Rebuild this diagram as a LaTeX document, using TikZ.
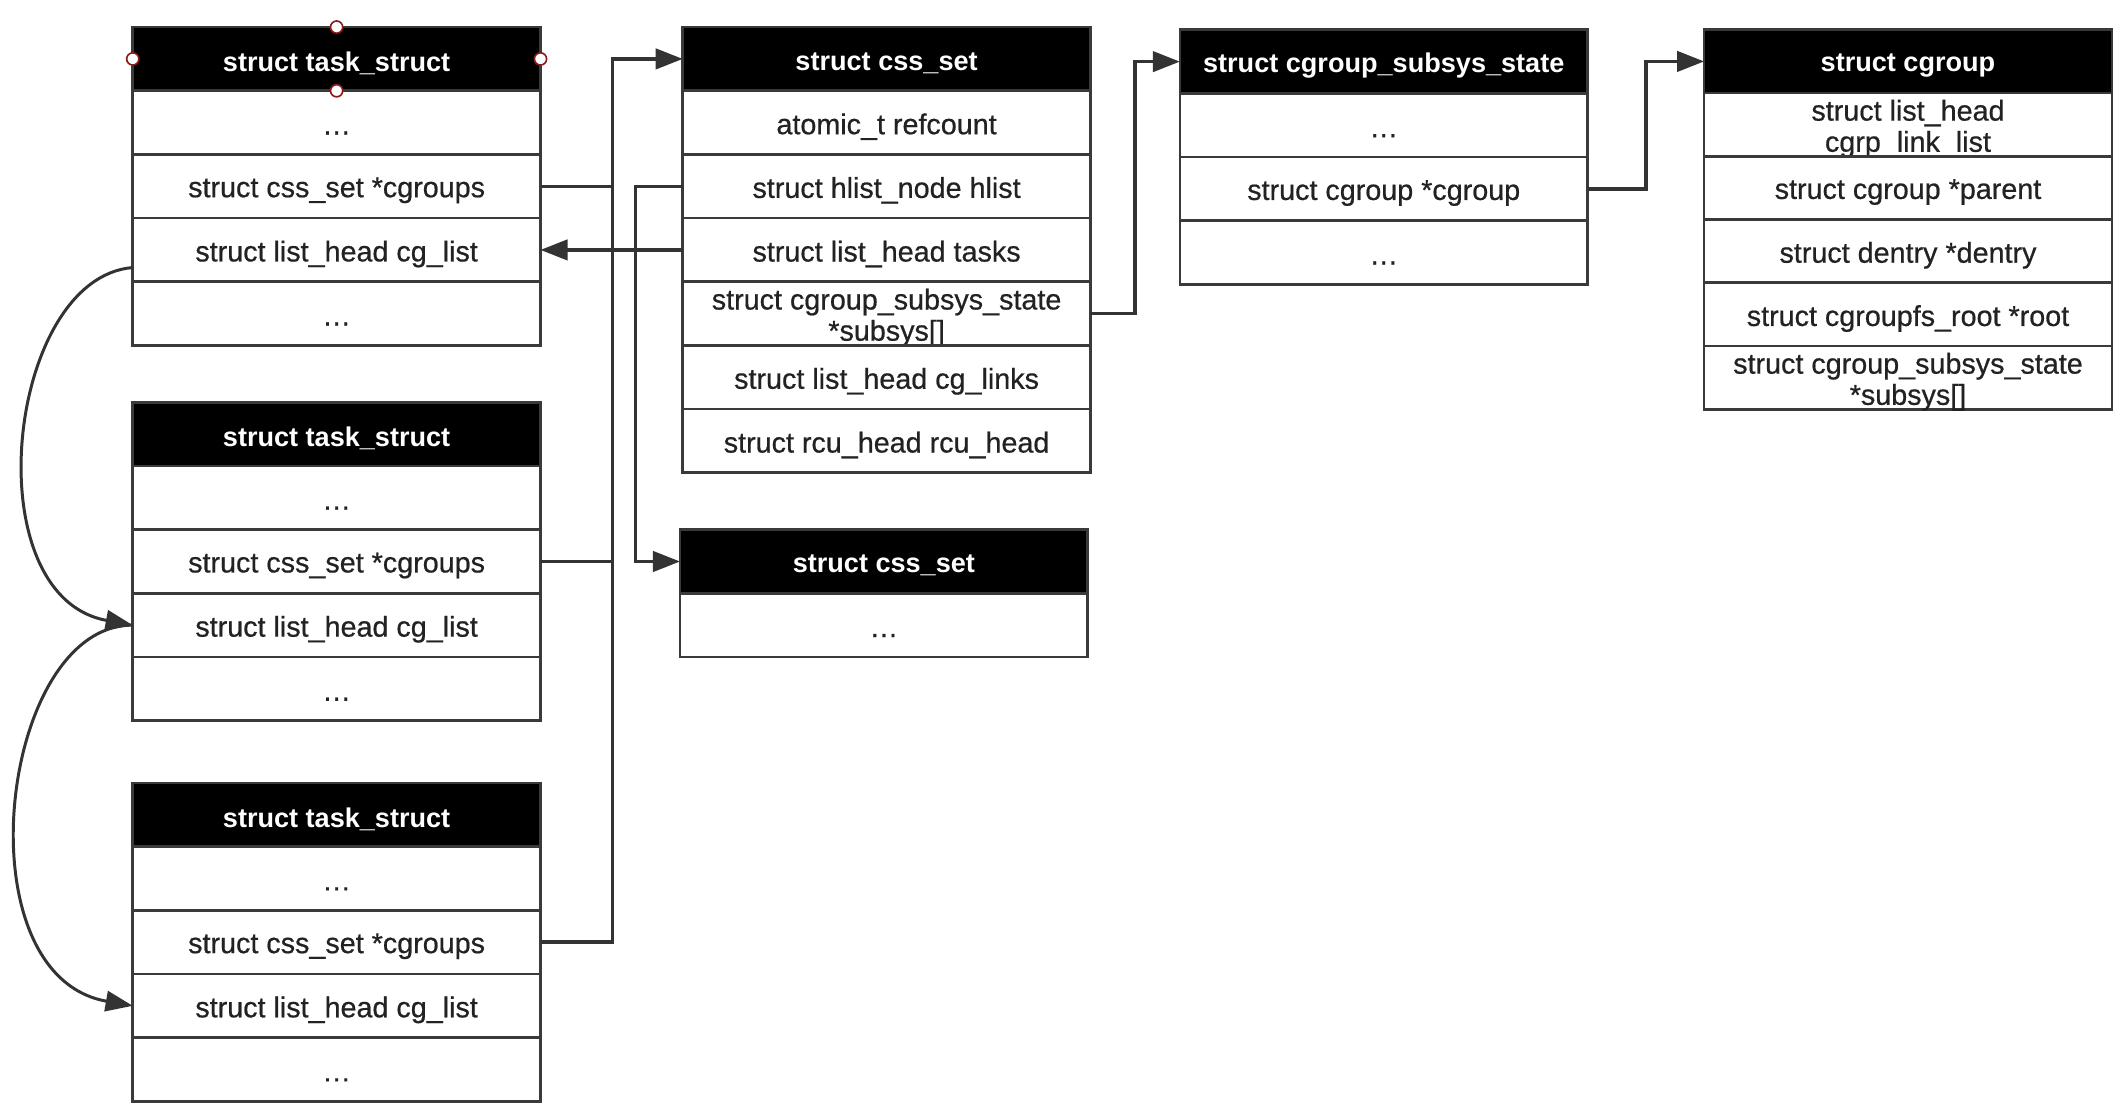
\documentclass[tikz,border=0pt]{standalone}
\usepackage{fontspec}
\setmainfont{Liberation Sans}
\newfontfamily\rowfam[FakeBold=0.6]{Liberation Sans}
\usetikzlibrary{arrows.meta,calc}
\definecolor{ln}{HTML}{333333}
\definecolor{bd}{HTML}{3A3A3A}
\definecolor{hd}{HTML}{8B1A1A}
\definecolor{tx}{HTML}{222222}
\newcommand\etcdots{\rule{0pt}{5.8pt}\ldots}
\tikzset{
 fld/.style={draw=bd, line width=1pt, fill=white, minimum width=150.5pt, inner sep=0pt, outer sep=0pt,
   anchor=north west},
 hdr/.style={fld, fill=black},
 fldtxt/.style={inner sep=0pt, align=center, font=\rowfam\fontsize{10.6pt}{11.5pt}\selectfont, text=tx},
 hdrtxt/.style={fldtxt, text=white, font=\bfseries\fontsize{10pt}{11.5pt}\selectfont},
 conn/.style={draw=ln, line width=1.25pt},
 arr/.style={conn, -{Triangle[length=10pt,width=7.5pt]}},
 carr/.style={draw=ln, line width=1.1pt, -{Triangle[length=10pt,width=7.5pt]}},
 handle/.style={circle, draw=hd, fill=white, line width=0.6pt, minimum size=4.5pt, inner sep=0pt}
}
\newcommand\mkstruct[6]{%
 \node[hdr, minimum height=#4*0.5pt] (#1-0) at (#2,#3) {};
 \node[hdrtxt] (#1-0-t) at ($(#1-0.center)+(0,3)$) {#5};
 \foreach \fldtext [count=\i] in {#6} {
   \node[fld, minimum height=#4*0.5pt] (#1-\i) at (#2,{#3+\i*#4}) {};
   \node[fldtxt] (#1-\i-t) at ($(#1-\i.center)+(0,3)$) {\fldtext};
 }
}
\begin{document}
\begin{tikzpicture}[x=0.5pt,y=-0.5pt]
\path[fill=white,use as bounding box] (0,0) rectangle (1565,818);

\mkstruct{t1}{98}{20}{47}{struct task\_struct}{{\etcdots},{struct css\_set *cgroups},{struct list\_head cg\_list},{\etcdots}}
\mkstruct{t2}{98}{297}{47}{struct task\_struct}{{\etcdots},{struct css\_set *cgroups},{struct list\_head cg\_list},{\etcdots}}
\mkstruct{t3}{98}{578}{47}{struct task\_struct}{{\etcdots},{struct css\_set *cgroups},{struct list\_head cg\_list},{\etcdots}}
\mkstruct{c1}{504}{20}{47}{struct css\_set}{{atomic\_t refcount},{struct hlist\_node hlist},{struct list\_head tasks},{struct cgroup\_subsys\_state\\{}*subsys[]},{struct list\_head cg\_links},{struct rcu\_head rcu\_head}}
\mkstruct{c2}{502}{391}{47}{struct css\_set}{{\etcdots}}
\mkstruct{s}{871}{22}{47}{struct cgroup\_subsys\_state}{{\etcdots},{struct cgroup *cgroup},{\etcdots}}
\mkstruct{g}{1258}{22}{46.7}{struct cgroup}{{struct list\_head\\{}cgrp\_link\_list},{struct cgroup *parent},{struct dentry *dentry},{struct cgroupfs\_root *root},{struct cgroup\_subsys\_state\\{}*subsys[]}}

\coordinate (vx) at (452,0);
\coordinate (vy) at (469,0);
\coordinate (vs) at (838,0);
\coordinate (vg) at (1215,0);

\draw[arr] (t3-2.east) -| (vx |- c1-0.west) -- (c1-0.west);
\draw[conn] (t1-2.east) -- (vx |- t1-2.east);
\draw[conn] (t2-2.east) -- (vx |- t2-2.east);
\draw[arr] (c1-3.west) -- (t1-3.east);
\draw[arr] (c1-2.west) -| (vy |- c2-0.west) -- (c2-0.west);
\draw[arr] (c1-4.east) -| (vs |- s-0.west) -- (s-0.west);
\draw[arr] (s-2.east) -| (vg |- g-0.west) -- (g-0.west);

\coordinate (cs) at ($(t1-3.west)+(0,13)$);
\draw[carr] (cs) .. controls (5,205) and (-20,440) .. (t2-3.west);
\draw[carr] (t2-3.west) .. controls (0,461) and (-30,720) .. (t3-3.west);

\node[handle] (hN) at (t1-0.north) {};
\node[handle] (hS) at (t1-0.south) {};
\node[handle] (hW) at (t1-0.west) {};
\node[handle] (hE) at (t1-0.east) {};
\end{tikzpicture}
\end{document}
